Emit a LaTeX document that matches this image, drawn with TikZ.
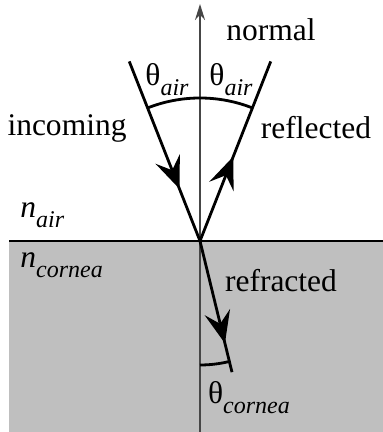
\documentclass[tikz,border=0pt]{standalone}
\usepackage{fontspec}
\setmainfont{Liberation Serif}
\usetikzlibrary{arrows.meta,decorations.markings,calc}
\definecolor{corneagray}{RGB}{191,191,191}
\definecolor{normalgray}{RGB}{70,70,70}
\newcommand{\lowtxt}[1]{\raisebox{-0.32em}{\fontsize{12}{13}\selectfont\itshape #1}}
\tikzset{
  ray/.style={line width=1.4pt},
  midarrow/.style={postaction={decorate},decoration={markings,
      mark=at position #1 with {\arrow{Stealth[length=16pt,width=13pt,inset=6pt]}}}},
  lbl/.style={inner sep=0pt,font=\rmfamily\fontsize{15.75}{18}\selectfont}
}
\begin{document}
\begin{tikzpicture}[x=0.5pt,y=0.5pt]
        \useasboundingbox (0,0) rectangle (383,432);
        \fill[corneagray] (9,0) rectangle (383,191);

        \coordinate (O) at (200,191);
        \coordinate (Ntop) at (200,428);
        \coordinate (Nbot) at (200,0);
        \coordinate (Sl) at (9,191);
        \coordinate (Sr) at (383,191);
        \coordinate (In) at ($(O)+(111.5:193)$);
        \coordinate (Re) at ($(O)+(68.5:193)$);
        \coordinate (Rf) at ($(O)+(-76.3:135)$);

        \draw[line width=0.6pt] (Sl) -- (Sr);
        \draw[normalgray,line width=1pt,-{Stealth[length=8pt,width=5pt]}] (Nbot) -- (Ntop);

        \draw[ray,midarrow=0.71] (In) -- (O);
        \draw[ray,midarrow=0.47] (O) -- (Re);
        \draw[ray,midarrow=0.78] (O) -- (Rf);

        \draw[ray] ($(O)+(111.5:143)$) arc[start angle=111.5,end angle=68.5,radius=143];
        \draw[ray] ($(O)+(-90:124)$) arc[start angle=-90,end angle=-76.3,radius=124];

        \node[lbl] (normal) at (271,402) {normal};
        \node[lbl] (thl) at (167,352) {θ\lowtxt{air}};
        \node[lbl] (thr) at (231,352) {θ\lowtxt{air}};
        \node[lbl] (incoming) at (67,304) {incoming};
        \node[lbl] (reflected) at (316,304) {reflected};
        \node[lbl,anchor=west] (nair) at (20,217) {\textit{n}\lowtxt{air}};
        \node[lbl,anchor=west] (ncornea) at (20,167) {\textit{n}\lowtxt{cornea}};
        \node[lbl] (refracted) at (281,151) {refracted};
        \node[lbl] (thc) at (249,34) {θ\lowtxt{cornea}};
\end{tikzpicture}
\end{document}
